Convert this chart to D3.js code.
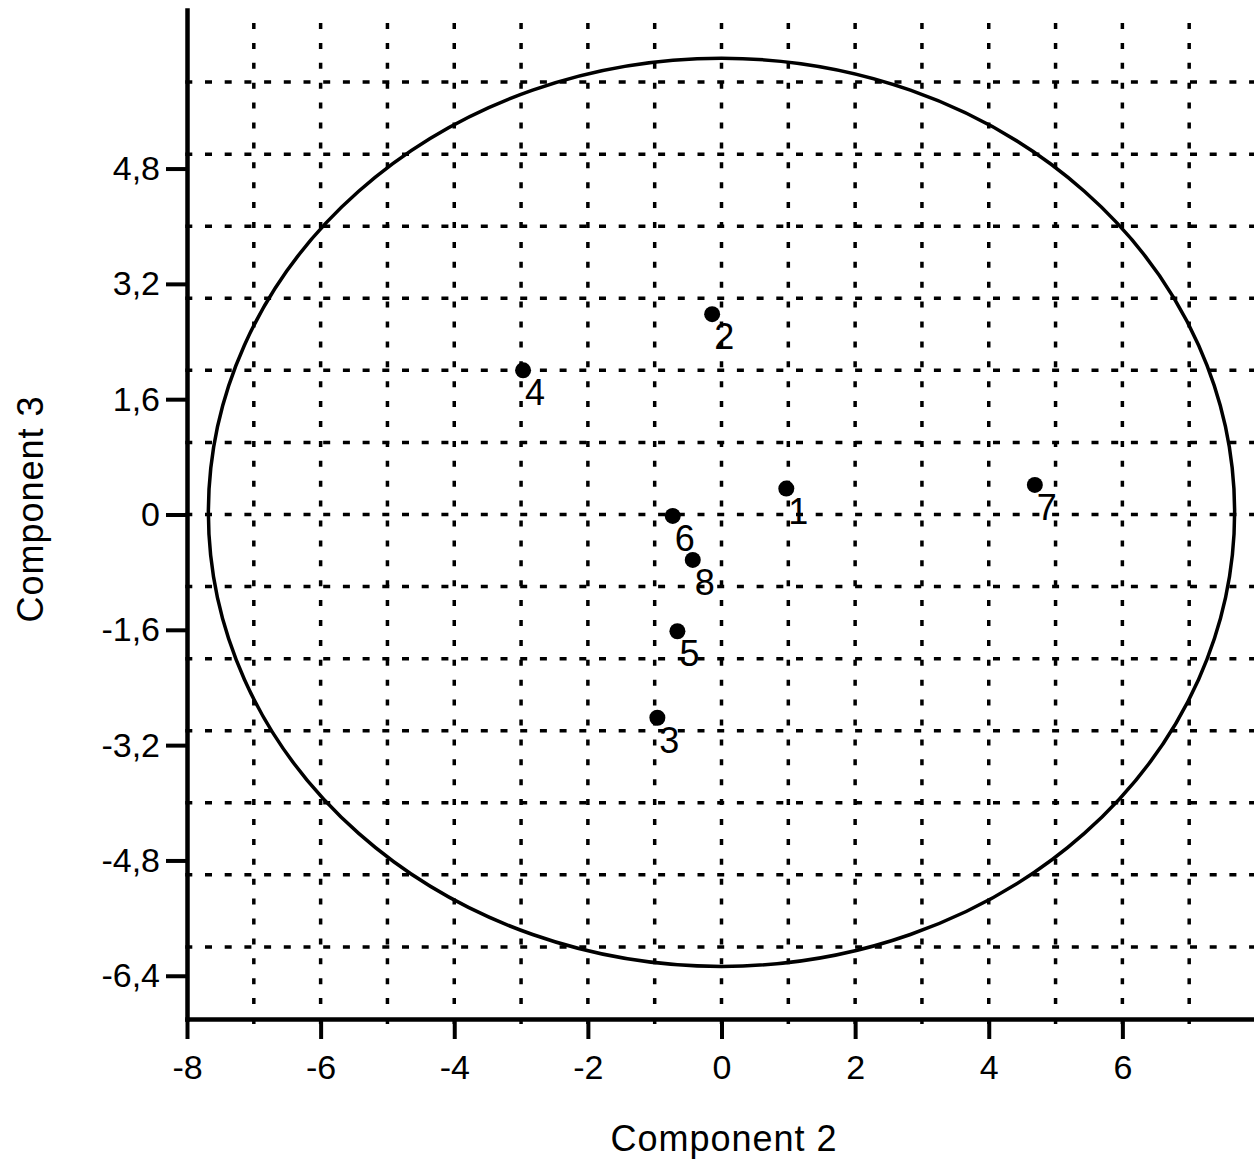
<!DOCTYPE html>
<html>
<head>
<meta charset="utf-8">
<script src="https://cdn.jsdelivr.net/npm/d3@7"></script>
<style>
  html, body { margin: 0; padding: 0; background: #fff; }
  svg { display: block; }
  text { font-family: "Liberation Sans", Arial, sans-serif; fill: #000; }
</style>
</head>
<body>
<svg id="chart" width="1254" height="1161"></svg>
<script>
// Sample scores on principal components 2 and 3
const sampleIds = ["1", "2", "3", "4", "5", "6", "7", "8"];
const component2 = [0.97, -0.14, -0.96, -2.97, -0.66, -0.73, 4.69, -0.43];
const component3 = [0.36, 2.78, -2.82, 2.00, -1.62, -0.02, 0.41, -0.63];

// Confidence ellipse (centre and semi-axes, in score units)
const ellipseCentre = [0, 0.03];
const ellipseRadii = [7.68, 6.30];

// Axis ticks and grid positions
const xTicks = [-8, -6, -4, -2, 0, 2, 4, 6];
const yTicks = [-6.4, -4.8, -3.2, -1.6, 0, 1.6, 3.2, 4.8];
const xGrid = [-7, -6, -5, -4, -3, -2, -1, 0, 1, 2, 3, 4, 5, 6, 7];
const yGrid = [-6, -5, -4, -3, -2, -1, 0, 1, 2, 3, 4, 5, 6];

const xDomain = [-8, 8];
const yDomain = [-7, 7];

const svg = d3.select("#chart");

const x = d3.scaleLinear().domain(xDomain).range([187, 1256]);
const y = d3.scaleLinear().domain(yDomain).range([1019, 10]);

const locale = d3.formatLocale({
  decimal: ",", thousands: ".", grouping: [3], currency: ["", ""], minus: "-"
});
const fmt = locale.format("~g");

// Dotted grid
const grid = svg.append("g")
  .attr("stroke", "#000")
  .attr("stroke-width", 3.5)
  .attr("fill", "none");

grid.selectAll("line.v")
  .data(xGrid)
  .join("line")
  .attr("class", "v")
  .attr("x1", d => x(d)).attr("x2", d => x(d))
  .attr("y1", y(yDomain[0]) + 5)
  .attr("y2", y(yDomain[1]))
  .attr("stroke-dasharray", "6,13.9");

grid.selectAll("line.h")
  .data(yGrid)
  .join("line")
  .attr("class", "h")
  .attr("x1", x(xDomain[0]) - 1.7)
  .attr("x2", x(xDomain[1]))
  .attr("y1", d => y(d)).attr("y2", d => y(d))
  .attr("stroke-dasharray", "7,12.7");

// Ellipse
svg.append("ellipse")
  .attr("cx", x(ellipseCentre[0]))
  .attr("cy", y(ellipseCentre[1]))
  .attr("rx", x(ellipseRadii[0]) - x(0))
  .attr("ry", y(0) - y(ellipseRadii[1]))
  .attr("fill", "none")
  .attr("stroke", "#000")
  .attr("stroke-width", 3.5);

// Axes
const xAxis = d3.axisBottom(x)
  .tickValues(xTicks)
  .tickFormat(fmt)
  .tickSize(20)
  .tickSizeOuter(0)
  .tickPadding(16);

const yAxis = d3.axisLeft(y)
  .tickValues(yTicks)
  .tickFormat(fmt)
  .tickSize(21)
  .tickSizeOuter(0)
  .tickPadding(6);

const gx = svg.append("g")
  .attr("transform", `translate(0,${y(yDomain[0])})`)
  .call(xAxis);

const gy = svg.append("g")
  .attr("transform", `translate(${x(xDomain[0])},0)`)
  .call(yAxis);

[gx, gy].forEach(g => {
  g.select(".domain")
    .attr("stroke", "#000")
    .attr("stroke-width", 4.5)
    .attr("stroke-linecap", "square");
  g.selectAll(".tick line")
    .attr("stroke", "#000")
    .attr("stroke-width", 4);
  g.selectAll(".tick text")
    .attr("fill", "#000")
    .style("font-family", '"Liberation Sans", Arial, sans-serif')
    .style("font-size", "34px");
});

// Axis titles
svg.append("text")
  .attr("x", 724)
  .attr("y", 1151)
  .attr("text-anchor", "middle")
  .style("font-size", "36px")
  .style("letter-spacing", "1px")
  .text("Component 2");

svg.append("text")
  .attr("transform", "translate(43,509) rotate(-90)")
  .attr("text-anchor", "middle")
  .style("font-size", "36px")
  .style("letter-spacing", "1px")
  .text("Component 3");

// Sample points and their labels
const pts = sampleIds.map((id, i) => ({ id, c2: component2[i], c3: component3[i] }));

svg.append("g")
  .selectAll("circle")
  .data(pts)
  .join("circle")
  .attr("cx", d => x(d.c2))
  .attr("cy", d => y(d.c3))
  .attr("r", 8)
  .attr("fill", "#000");

svg.append("g")
  .selectAll("text")
  .data(pts)
  .join("text")
  .attr("x", d => x(d.c2) + 2)
  .attr("y", d => y(d.c3) + 35)
  .style("font-size", "36px")
  .text(d => d.id);
</script>
</body>
</html>
